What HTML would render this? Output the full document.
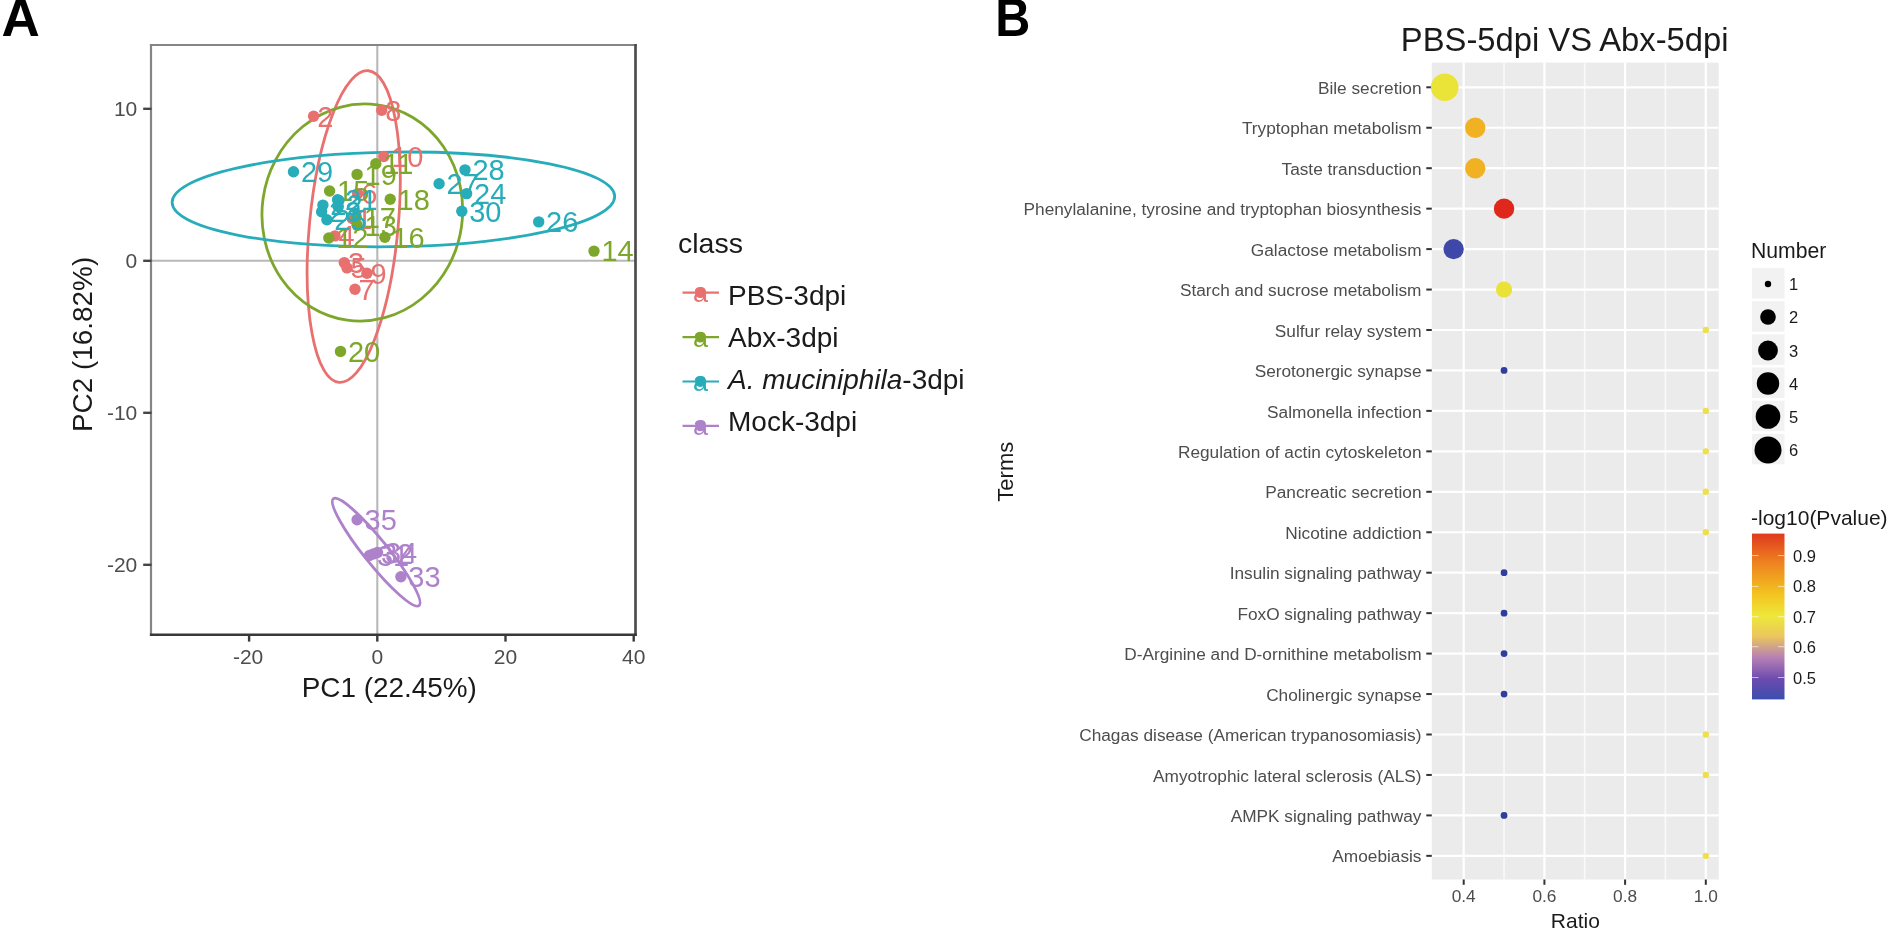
<!DOCTYPE html><html><head><meta charset="utf-8"><title>Figure</title><style>html,body{margin:0;padding:0;background:#fff}body{width:1889px;height:936px;overflow:hidden}svg{display:block}text{font-family:"Liberation Sans",Arial,Helvetica,sans-serif}</style></head><body>
<svg width="1889" height="936" viewBox="0 0 1889 936">
<rect width="1889" height="936" fill="#fff"/>
<defs><filter id="soft" filterUnits="userSpaceOnUse" x="0" y="0" width="1889" height="936" color-interpolation-filters="sRGB"><feGaussianBlur stdDeviation="0.55"/></filter></defs>
<g filter="url(#soft)">
<rect width="1889" height="936" fill="#fff"/>
<text x="1.6" y="35.9" font-size="53" font-weight="700" fill="#000">A</text>
<line x1="151.5" x2="635.6" y1="260.8" y2="260.8" stroke="#b8b8b8" stroke-width="2.1"/>
<line x1="377.3" x2="377.3" y1="44.9" y2="634.2" stroke="#b8b8b8" stroke-width="2.1"/>
<ellipse cx="353.7" cy="226.55" rx="44.3" ry="156.5" transform="rotate(5.4 353.7 226.55)" fill="none" stroke="#E8706F" stroke-width="2.8"/>
<ellipse cx="362.3" cy="212.5" rx="100.2" ry="108.7" transform="rotate(8 362.3 212.5)" fill="none" stroke="#7DA72B" stroke-width="2.8"/>
<ellipse cx="393.4" cy="199.4" rx="221.3" ry="47.3" transform="rotate(-0.8 393.4 199.4)" fill="none" stroke="#27ACB9" stroke-width="2.8"/>
<ellipse cx="376.2" cy="552.2" rx="68.5" ry="12" transform="rotate(51.3 376.2 552.2)" fill="none" stroke="#AE82CA" stroke-width="2.8"/>
<circle cx="313.6" cy="116.2" r="5.7" fill="#E8706F"/>
<circle cx="381.7" cy="110.3" r="5.7" fill="#E8706F"/>
<circle cx="383.8" cy="156.5" r="5.7" fill="#E8706F"/>
<circle cx="357.6" cy="193.6" r="5.7" fill="#E8706F"/>
<circle cx="352.3" cy="218.5" r="5.7" fill="#E8706F"/>
<circle cx="335" cy="235.9" r="5.7" fill="#E8706F"/>
<circle cx="344.3" cy="262.6" r="5.7" fill="#E8706F"/>
<circle cx="347" cy="267.9" r="5.7" fill="#E8706F"/>
<circle cx="367" cy="273.2" r="5.7" fill="#E8706F"/>
<circle cx="355" cy="289.3" r="5.7" fill="#E8706F"/>
<text x="317.2" y="126.5" font-size="29" fill="#E8706F">2</text>
<text x="385.3" y="120.6" font-size="29" fill="#E8706F">8</text>
<text x="391.2" y="166.8" font-size="29" fill="#E8706F">10</text>
<text x="361.2" y="203.9" font-size="29" fill="#E8706F">6</text>
<text x="355.9" y="228.8" font-size="29" fill="#E8706F">1</text>
<text x="338.6" y="246.2" font-size="29" fill="#E8706F">4</text>
<text x="347.9" y="272.9" font-size="29" fill="#E8706F">3</text>
<text x="350.6" y="278.2" font-size="29" fill="#E8706F">5</text>
<text x="370.6" y="283.5" font-size="29" fill="#E8706F">9</text>
<text x="358.6" y="299.6" font-size="29" fill="#E8706F">7</text>
<circle cx="375.8" cy="163.7" r="5.7" fill="#7DA72B"/>
<circle cx="357.1" cy="174.4" r="5.7" fill="#7DA72B"/>
<circle cx="329.6" cy="191.0" r="5.7" fill="#7DA72B"/>
<circle cx="390.2" cy="199.3" r="5.7" fill="#7DA72B"/>
<circle cx="356.3" cy="217.2" r="5.7" fill="#7DA72B"/>
<circle cx="357.1" cy="225.2" r="5.7" fill="#7DA72B"/>
<circle cx="328.8" cy="238.0" r="5.7" fill="#7DA72B"/>
<circle cx="384.9" cy="237.2" r="5.7" fill="#7DA72B"/>
<circle cx="594" cy="251.1" r="5.7" fill="#7DA72B"/>
<circle cx="340.5" cy="351.4" r="5.7" fill="#7DA72B"/>
<text x="383.2" y="174.0" font-size="29" fill="#7DA72B">11</text>
<text x="364.5" y="184.7" font-size="29" fill="#7DA72B">19</text>
<text x="337.0" y="201.3" font-size="29" fill="#7DA72B">15</text>
<text x="397.6" y="209.6" font-size="29" fill="#7DA72B">18</text>
<text x="363.7" y="227.5" font-size="29" fill="#7DA72B">17</text>
<text x="364.5" y="235.5" font-size="29" fill="#7DA72B">13</text>
<text x="336.2" y="248.3" font-size="29" fill="#7DA72B">12</text>
<text x="392.3" y="247.5" font-size="29" fill="#7DA72B">16</text>
<text x="601.4" y="261.4" font-size="29" fill="#7DA72B">14</text>
<text x="347.9" y="361.7" font-size="29" fill="#7DA72B">20</text>
<circle cx="293.5" cy="171.7" r="5.7" fill="#27ACB9"/>
<circle cx="465" cy="169.9" r="5.7" fill="#27ACB9"/>
<circle cx="439.1" cy="183.8" r="5.7" fill="#27ACB9"/>
<circle cx="466.6" cy="193.6" r="5.7" fill="#27ACB9"/>
<circle cx="461.8" cy="211.3" r="5.7" fill="#27ACB9"/>
<circle cx="538.7" cy="221.9" r="5.7" fill="#27ACB9"/>
<circle cx="337.6" cy="199.8" r="5.7" fill="#27ACB9"/>
<circle cx="338.2" cy="206.5" r="5.7" fill="#27ACB9"/>
<circle cx="322.9" cy="205.1" r="5.7" fill="#27ACB9"/>
<circle cx="321.6" cy="211.8" r="5.7" fill="#27ACB9"/>
<circle cx="326.9" cy="219.8" r="5.7" fill="#27ACB9"/>
<text x="300.9" y="182.0" font-size="29" fill="#27ACB9">29</text>
<text x="472.4" y="180.2" font-size="29" fill="#27ACB9">28</text>
<text x="446.5" y="194.1" font-size="29" fill="#27ACB9">27</text>
<text x="474.0" y="203.9" font-size="29" fill="#27ACB9">24</text>
<text x="469.2" y="221.6" font-size="29" fill="#27ACB9">30</text>
<text x="546.1" y="232.2" font-size="29" fill="#27ACB9">26</text>
<text x="345.0" y="210.1" font-size="29" fill="#27ACB9">21</text>
<text x="330.3" y="215.4" font-size="29" fill="#27ACB9">22</text>
<text x="329.0" y="222.1" font-size="29" fill="#27ACB9">23</text>
<text x="334.3" y="230.1" font-size="29" fill="#27ACB9">25</text>
<circle cx="357.1" cy="519.8" r="5.7" fill="#AE82CA"/>
<circle cx="369.5" cy="555.5" r="5.7" fill="#AE82CA"/>
<circle cx="373.5" cy="553.9" r="5.7" fill="#AE82CA"/>
<circle cx="377.5" cy="552.5" r="5.7" fill="#AE82CA"/>
<circle cx="400.9" cy="576.7" r="5.7" fill="#AE82CA"/>
<text x="364.5" y="530.1" font-size="29" fill="#AE82CA">35</text>
<text x="376.9" y="565.8" font-size="29" fill="#AE82CA">31</text>
<text x="380.9" y="564.2" font-size="29" fill="#AE82CA">32</text>
<text x="384.9" y="562.8" font-size="29" fill="#AE82CA">34</text>
<text x="408.3" y="587.0" font-size="29" fill="#AE82CA">33</text>
<line x1="149.9" x2="636.8" y1="45.05" y2="45.05" stroke="#858585" stroke-width="2"/>
<line x1="151.0" x2="151.0" y1="44.05" y2="636" stroke="#858585" stroke-width="2.2"/>
<line x1="635.5" x2="635.5" y1="44.05" y2="636" stroke="#4d4d4d" stroke-width="2.7"/>
<line x1="149.9" x2="636.8" y1="634.7" y2="634.7" stroke="#383838" stroke-width="2.6"/>
<line x1="143.2" x2="151.5" y1="108.80000000000001" y2="108.80000000000001" stroke="#444" stroke-width="2.4"/>
<text x="137.3" y="116.20000000000002" font-size="21" fill="#4d4d4d" text-anchor="end">10</text>
<line x1="143.2" x2="151.5" y1="260.8" y2="260.8" stroke="#444" stroke-width="2.4"/>
<text x="137.3" y="268.2" font-size="21" fill="#4d4d4d" text-anchor="end">0</text>
<line x1="143.2" x2="151.5" y1="412.8" y2="412.8" stroke="#444" stroke-width="2.4"/>
<text x="137.3" y="420.2" font-size="21" fill="#4d4d4d" text-anchor="end">-10</text>
<line x1="143.2" x2="151.5" y1="564.8" y2="564.8" stroke="#444" stroke-width="2.4"/>
<text x="137.3" y="572.1999999999999" font-size="21" fill="#4d4d4d" text-anchor="end">-20</text>
<line x1="249.10000000000002" x2="249.10000000000002" y1="634.2" y2="641.6" stroke="#3a3a3a" stroke-width="2.4"/>
<text x="248.10000000000002" y="663.6" font-size="21" fill="#4d4d4d" text-anchor="middle">-20</text>
<line x1="377.3" x2="377.3" y1="634.2" y2="641.6" stroke="#3a3a3a" stroke-width="2.4"/>
<text x="377.3" y="663.6" font-size="21" fill="#4d4d4d" text-anchor="middle">0</text>
<line x1="505.5" x2="505.5" y1="634.2" y2="641.6" stroke="#3a3a3a" stroke-width="2.4"/>
<text x="505.5" y="663.6" font-size="21" fill="#4d4d4d" text-anchor="middle">20</text>
<line x1="633.7" x2="633.7" y1="634.2" y2="641.6" stroke="#3a3a3a" stroke-width="2.4"/>
<text x="633.7" y="663.6" font-size="21" fill="#4d4d4d" text-anchor="middle">40</text>
<text x="389.3" y="697.3" font-size="27.9" fill="#1a1a1a" text-anchor="middle">PC1 (22.45%)</text>
<text transform="translate(91.7 344.4) rotate(-90)" font-size="27.9" fill="#1a1a1a" text-anchor="middle">PC2 (16.82%)</text>
<text x="678" y="252.5" font-size="28.5" fill="#1a1a1a">class</text>
<line x1="682.5" x2="719" y1="292.7" y2="292.7" stroke="#E8706F" stroke-width="2.2"/>
<circle cx="700.4" cy="292.7" r="5.4" fill="#E8706F"/>
<text x="700.4" y="302.2" font-size="27" fill="#E8706F" text-anchor="middle">a</text>
<text x="728" y="305.3" font-size="28" fill="#1a1a1a">PBS-3dpi</text>
<line x1="682.5" x2="719" y1="337.09999999999997" y2="337.09999999999997" stroke="#7DA72B" stroke-width="2.2"/>
<circle cx="700.4" cy="337.09999999999997" r="5.4" fill="#7DA72B"/>
<text x="700.4" y="346.59999999999997" font-size="27" fill="#7DA72B" text-anchor="middle">a</text>
<text x="728" y="347.13" font-size="28" fill="#1a1a1a">Abx-3dpi</text>
<line x1="682.5" x2="719" y1="381.5" y2="381.5" stroke="#27ACB9" stroke-width="2.2"/>
<circle cx="700.4" cy="381.5" r="5.4" fill="#27ACB9"/>
<text x="700.4" y="391.0" font-size="27" fill="#27ACB9" text-anchor="middle">a</text>
<text x="728" y="388.96000000000004" font-size="28" fill="#1a1a1a"><tspan font-style="italic">A. muciniphila</tspan>-3dpi</text>
<line x1="682.5" x2="719" y1="425.9" y2="425.9" stroke="#AE82CA" stroke-width="2.2"/>
<circle cx="700.4" cy="425.9" r="5.4" fill="#AE82CA"/>
<text x="700.4" y="435.4" font-size="27" fill="#AE82CA" text-anchor="middle">a</text>
<text x="728" y="430.79" font-size="28" fill="#1a1a1a">Mock-3dpi</text>
<text transform="translate(995.2 35.5) scale(0.916 1)" font-size="53" font-weight="700" fill="#000">B</text>
<text x="1564.7" y="50.8" font-size="32.75" fill="#1a1a1a" text-anchor="middle">PBS-5dpi VS Abx-5dpi</text>
<rect x="1431.8" y="62.6" width="286.9000000000001" height="816.9" fill="#ebebeb"/>
<line x1="1504.05" x2="1504.05" y1="62.6" y2="879.5" stroke="#f9f9f9" stroke-width="1.7"/>
<line x1="1584.75" x2="1584.75" y1="62.6" y2="879.5" stroke="#f9f9f9" stroke-width="1.7"/>
<line x1="1665.45" x2="1665.45" y1="62.6" y2="879.5" stroke="#f9f9f9" stroke-width="1.7"/>
<line x1="1463.7" x2="1463.7" y1="62.6" y2="879.5" stroke="#fff" stroke-width="2.2"/>
<line x1="1544.4" x2="1544.4" y1="62.6" y2="879.5" stroke="#fff" stroke-width="2.2"/>
<line x1="1625.1000000000001" x2="1625.1000000000001" y1="62.6" y2="879.5" stroke="#fff" stroke-width="2.2"/>
<line x1="1705.8" x2="1705.8" y1="62.6" y2="879.5" stroke="#fff" stroke-width="2.2"/>
<line x1="1431.8" x2="1718.7" y1="87.3" y2="87.3" stroke="#fff" stroke-width="2.2"/>
<line x1="1431.8" x2="1718.7" y1="127.75" y2="127.75" stroke="#fff" stroke-width="2.2"/>
<line x1="1431.8" x2="1718.7" y1="168.2" y2="168.2" stroke="#fff" stroke-width="2.2"/>
<line x1="1431.8" x2="1718.7" y1="208.65" y2="208.65" stroke="#fff" stroke-width="2.2"/>
<line x1="1431.8" x2="1718.7" y1="249.10000000000002" y2="249.10000000000002" stroke="#fff" stroke-width="2.2"/>
<line x1="1431.8" x2="1718.7" y1="289.55" y2="289.55" stroke="#fff" stroke-width="2.2"/>
<line x1="1431.8" x2="1718.7" y1="330.0" y2="330.0" stroke="#fff" stroke-width="2.2"/>
<line x1="1431.8" x2="1718.7" y1="370.45000000000005" y2="370.45000000000005" stroke="#fff" stroke-width="2.2"/>
<line x1="1431.8" x2="1718.7" y1="410.90000000000003" y2="410.90000000000003" stroke="#fff" stroke-width="2.2"/>
<line x1="1431.8" x2="1718.7" y1="451.35" y2="451.35" stroke="#fff" stroke-width="2.2"/>
<line x1="1431.8" x2="1718.7" y1="491.8" y2="491.8" stroke="#fff" stroke-width="2.2"/>
<line x1="1431.8" x2="1718.7" y1="532.25" y2="532.25" stroke="#fff" stroke-width="2.2"/>
<line x1="1431.8" x2="1718.7" y1="572.7" y2="572.7" stroke="#fff" stroke-width="2.2"/>
<line x1="1431.8" x2="1718.7" y1="613.15" y2="613.15" stroke="#fff" stroke-width="2.2"/>
<line x1="1431.8" x2="1718.7" y1="653.6" y2="653.6" stroke="#fff" stroke-width="2.2"/>
<line x1="1431.8" x2="1718.7" y1="694.05" y2="694.05" stroke="#fff" stroke-width="2.2"/>
<line x1="1431.8" x2="1718.7" y1="734.5" y2="734.5" stroke="#fff" stroke-width="2.2"/>
<line x1="1431.8" x2="1718.7" y1="774.95" y2="774.95" stroke="#fff" stroke-width="2.2"/>
<line x1="1431.8" x2="1718.7" y1="815.4" y2="815.4" stroke="#fff" stroke-width="2.2"/>
<line x1="1431.8" x2="1718.7" y1="855.85" y2="855.85" stroke="#fff" stroke-width="2.2"/>
<line x1="1426.3" x2="1431.8" y1="87.3" y2="87.3" stroke="#333" stroke-width="2"/>
<text x="1421.5" y="93.89999999999999" font-size="17.25" fill="#4d4d4d" text-anchor="end">Bile secretion</text>
<circle cx="1444.7355" cy="87.3" r="13.8" fill="#EAE338"/>
<line x1="1426.3" x2="1431.8" y1="127.75" y2="127.75" stroke="#333" stroke-width="2"/>
<text x="1421.5" y="134.35" font-size="17.25" fill="#4d4d4d" text-anchor="end">Tryptophan metabolism</text>
<circle cx="1475.2401" cy="127.75" r="10.2" fill="#F0B222"/>
<line x1="1426.3" x2="1431.8" y1="168.2" y2="168.2" stroke="#333" stroke-width="2"/>
<text x="1421.5" y="174.79999999999998" font-size="17.25" fill="#4d4d4d" text-anchor="end">Taste transduction</text>
<circle cx="1475.2401" cy="168.2" r="10.2" fill="#F0B222"/>
<line x1="1426.3" x2="1431.8" y1="208.65" y2="208.65" stroke="#333" stroke-width="2"/>
<text x="1421.5" y="215.25" font-size="17.25" fill="#4d4d4d" text-anchor="end">Phenylalanine, tyrosine and tryptophan biosynthesis</text>
<circle cx="1504.05" cy="208.65" r="10.2" fill="#E0271C"/>
<line x1="1426.3" x2="1431.8" y1="249.10000000000002" y2="249.10000000000002" stroke="#333" stroke-width="2"/>
<text x="1421.5" y="255.70000000000002" font-size="17.25" fill="#4d4d4d" text-anchor="end">Galactose metabolism</text>
<circle cx="1453.6125" cy="249.10000000000002" r="10.2" fill="#3F48A8"/>
<line x1="1426.3" x2="1431.8" y1="289.55" y2="289.55" stroke="#333" stroke-width="2"/>
<text x="1421.5" y="296.15000000000003" font-size="17.25" fill="#4d4d4d" text-anchor="end">Starch and sucrose metabolism</text>
<circle cx="1504.05" cy="289.55" r="8.1" fill="#EAE238"/>
<line x1="1426.3" x2="1431.8" y1="330.0" y2="330.0" stroke="#333" stroke-width="2"/>
<text x="1421.5" y="336.6" font-size="17.25" fill="#4d4d4d" text-anchor="end">Sulfur relay system</text>
<circle cx="1705.8" cy="330.0" r="3.2" fill="#EDE04A"/>
<line x1="1426.3" x2="1431.8" y1="370.45000000000005" y2="370.45000000000005" stroke="#333" stroke-width="2"/>
<text x="1421.5" y="377.05000000000007" font-size="17.25" fill="#4d4d4d" text-anchor="end">Serotonergic synapse</text>
<circle cx="1504.05" cy="370.45000000000005" r="3.4" fill="#2E3F9B"/>
<line x1="1426.3" x2="1431.8" y1="410.90000000000003" y2="410.90000000000003" stroke="#333" stroke-width="2"/>
<text x="1421.5" y="417.50000000000006" font-size="17.25" fill="#4d4d4d" text-anchor="end">Salmonella infection</text>
<circle cx="1705.8" cy="410.90000000000003" r="3.2" fill="#EDE04A"/>
<line x1="1426.3" x2="1431.8" y1="451.35" y2="451.35" stroke="#333" stroke-width="2"/>
<text x="1421.5" y="457.95000000000005" font-size="17.25" fill="#4d4d4d" text-anchor="end">Regulation of actin cytoskeleton</text>
<circle cx="1705.8" cy="451.35" r="3.2" fill="#EDE04A"/>
<line x1="1426.3" x2="1431.8" y1="491.8" y2="491.8" stroke="#333" stroke-width="2"/>
<text x="1421.5" y="498.40000000000003" font-size="17.25" fill="#4d4d4d" text-anchor="end">Pancreatic secretion</text>
<circle cx="1705.8" cy="491.8" r="3.2" fill="#EDE04A"/>
<line x1="1426.3" x2="1431.8" y1="532.25" y2="532.25" stroke="#333" stroke-width="2"/>
<text x="1421.5" y="538.85" font-size="17.25" fill="#4d4d4d" text-anchor="end">Nicotine addiction</text>
<circle cx="1705.8" cy="532.25" r="3.2" fill="#EDE04A"/>
<line x1="1426.3" x2="1431.8" y1="572.7" y2="572.7" stroke="#333" stroke-width="2"/>
<text x="1421.5" y="579.3000000000001" font-size="17.25" fill="#4d4d4d" text-anchor="end">Insulin signaling pathway</text>
<circle cx="1504.05" cy="572.7" r="3.4" fill="#2E3F9B"/>
<line x1="1426.3" x2="1431.8" y1="613.15" y2="613.15" stroke="#333" stroke-width="2"/>
<text x="1421.5" y="619.75" font-size="17.25" fill="#4d4d4d" text-anchor="end">FoxO signaling pathway</text>
<circle cx="1504.05" cy="613.15" r="3.4" fill="#2E3F9B"/>
<line x1="1426.3" x2="1431.8" y1="653.6" y2="653.6" stroke="#333" stroke-width="2"/>
<text x="1421.5" y="660.2" font-size="17.25" fill="#4d4d4d" text-anchor="end">D-Arginine and D-ornithine metabolism</text>
<circle cx="1504.05" cy="653.6" r="3.4" fill="#2E3F9B"/>
<line x1="1426.3" x2="1431.8" y1="694.05" y2="694.05" stroke="#333" stroke-width="2"/>
<text x="1421.5" y="700.65" font-size="17.25" fill="#4d4d4d" text-anchor="end">Cholinergic synapse</text>
<circle cx="1504.05" cy="694.05" r="3.4" fill="#2E3F9B"/>
<line x1="1426.3" x2="1431.8" y1="734.5" y2="734.5" stroke="#333" stroke-width="2"/>
<text x="1421.5" y="741.1" font-size="17.25" fill="#4d4d4d" text-anchor="end">Chagas disease (American trypanosomiasis)</text>
<circle cx="1705.8" cy="734.5" r="3.2" fill="#EDE04A"/>
<line x1="1426.3" x2="1431.8" y1="774.95" y2="774.95" stroke="#333" stroke-width="2"/>
<text x="1421.5" y="781.5500000000001" font-size="17.25" fill="#4d4d4d" text-anchor="end">Amyotrophic lateral sclerosis (ALS)</text>
<circle cx="1705.8" cy="774.95" r="3.2" fill="#EDE04A"/>
<line x1="1426.3" x2="1431.8" y1="815.4" y2="815.4" stroke="#333" stroke-width="2"/>
<text x="1421.5" y="822.0" font-size="17.25" fill="#4d4d4d" text-anchor="end">AMPK signaling pathway</text>
<circle cx="1504.05" cy="815.4" r="3.4" fill="#2E3F9B"/>
<line x1="1426.3" x2="1431.8" y1="855.85" y2="855.85" stroke="#333" stroke-width="2"/>
<text x="1421.5" y="862.45" font-size="17.25" fill="#4d4d4d" text-anchor="end">Amoebiasis</text>
<circle cx="1705.8" cy="855.85" r="3.2" fill="#EDE04A"/>
<line x1="1463.7" x2="1463.7" y1="879.5" y2="884.8" stroke="#333" stroke-width="2"/>
<text x="1463.7" y="901.9" font-size="17.3" fill="#4d4d4d" text-anchor="middle">0.4</text>
<line x1="1544.4" x2="1544.4" y1="879.5" y2="884.8" stroke="#333" stroke-width="2"/>
<text x="1544.4" y="901.9" font-size="17.3" fill="#4d4d4d" text-anchor="middle">0.6</text>
<line x1="1625.1000000000001" x2="1625.1000000000001" y1="879.5" y2="884.8" stroke="#333" stroke-width="2"/>
<text x="1625.1000000000001" y="901.9" font-size="17.3" fill="#4d4d4d" text-anchor="middle">0.8</text>
<line x1="1705.8" x2="1705.8" y1="879.5" y2="884.8" stroke="#333" stroke-width="2"/>
<text x="1705.8" y="901.9" font-size="17.3" fill="#4d4d4d" text-anchor="middle">1.0</text>
<text x="1575.3" y="927.8" font-size="21" fill="#1a1a1a" text-anchor="middle">Ratio</text>
<text transform="translate(1013 471.7) rotate(-90)" font-size="22" fill="#1a1a1a" text-anchor="middle">Terms</text>
<text x="1751" y="258.4" font-size="21.2" fill="#1a1a1a">Number</text>
<rect x="1752" y="268.10" width="32.5" height="30.4" fill="#f2f2f2"/>
<rect x="1752" y="301.25" width="32.5" height="30.4" fill="#f2f2f2"/>
<rect x="1752" y="334.40" width="32.5" height="30.4" fill="#f2f2f2"/>
<rect x="1752" y="367.55" width="32.5" height="30.4" fill="#f2f2f2"/>
<rect x="1752" y="400.70" width="32.5" height="30.4" fill="#f2f2f2"/>
<rect x="1752" y="433.85" width="32.5" height="30.4" fill="#f2f2f2"/>
<circle cx="1768" cy="284" r="3.2" fill="#000"/>
<text x="1789" y="290" font-size="16.5" fill="#1a1a1a">1</text>
<circle cx="1768" cy="317" r="7.8" fill="#000"/>
<text x="1789" y="323" font-size="16.5" fill="#1a1a1a">2</text>
<circle cx="1768" cy="350.5" r="9.9" fill="#000"/>
<text x="1789" y="356.5" font-size="16.5" fill="#1a1a1a">3</text>
<circle cx="1768" cy="383.5" r="11.2" fill="#000"/>
<text x="1789" y="389.5" font-size="16.5" fill="#1a1a1a">4</text>
<circle cx="1768" cy="416.5" r="12.3" fill="#000"/>
<text x="1789" y="422.5" font-size="16.5" fill="#1a1a1a">5</text>
<circle cx="1768" cy="450" r="13.5" fill="#000"/>
<text x="1789" y="456" font-size="16.5" fill="#1a1a1a">6</text>
<defs><linearGradient id="cb" x1="0" y1="0" x2="0" y2="1"><stop offset="0" stop-color="#E03A1E"/><stop offset="0.18" stop-color="#EE8420"/><stop offset="0.36" stop-color="#F3C21F"/><stop offset="0.5" stop-color="#EEE83A"/><stop offset="0.62" stop-color="#EAC55E"/><stop offset="0.75" stop-color="#B57FB5"/><stop offset="0.88" stop-color="#6B4BAE"/><stop offset="1" stop-color="#3B4FAE"/></linearGradient></defs>
<text x="1751" y="524.5" font-size="21" fill="#1a1a1a">-log10(Pvalue)</text>
<rect x="1752" y="533.6" width="32.5" height="165.8" fill="url(#cb)"/>
<line x1="1752" x2="1758.5" y1="555.6" y2="555.6" stroke="#fff" stroke-opacity="0.6" stroke-width="1"/>
<line x1="1778" x2="1784.5" y1="555.6" y2="555.6" stroke="#fff" stroke-opacity="0.6" stroke-width="1"/>
<text x="1793" y="561.6" font-size="16.5" fill="#1a1a1a">0.9</text>
<line x1="1752" x2="1758.5" y1="586.4" y2="586.4" stroke="#fff" stroke-opacity="0.6" stroke-width="1"/>
<line x1="1778" x2="1784.5" y1="586.4" y2="586.4" stroke="#fff" stroke-opacity="0.6" stroke-width="1"/>
<text x="1793" y="592.4" font-size="16.5" fill="#1a1a1a">0.8</text>
<line x1="1752" x2="1758.5" y1="616.7" y2="616.7" stroke="#fff" stroke-opacity="0.6" stroke-width="1"/>
<line x1="1778" x2="1784.5" y1="616.7" y2="616.7" stroke="#fff" stroke-opacity="0.6" stroke-width="1"/>
<text x="1793" y="622.7" font-size="16.5" fill="#1a1a1a">0.7</text>
<line x1="1752" x2="1758.5" y1="646.7" y2="646.7" stroke="#fff" stroke-opacity="0.6" stroke-width="1"/>
<line x1="1778" x2="1784.5" y1="646.7" y2="646.7" stroke="#fff" stroke-opacity="0.6" stroke-width="1"/>
<text x="1793" y="652.7" font-size="16.5" fill="#1a1a1a">0.6</text>
<line x1="1752" x2="1758.5" y1="677.5" y2="677.5" stroke="#fff" stroke-opacity="0.6" stroke-width="1"/>
<line x1="1778" x2="1784.5" y1="677.5" y2="677.5" stroke="#fff" stroke-opacity="0.6" stroke-width="1"/>
<text x="1793" y="683.5" font-size="16.5" fill="#1a1a1a">0.5</text>
</g>
</svg></body></html>
